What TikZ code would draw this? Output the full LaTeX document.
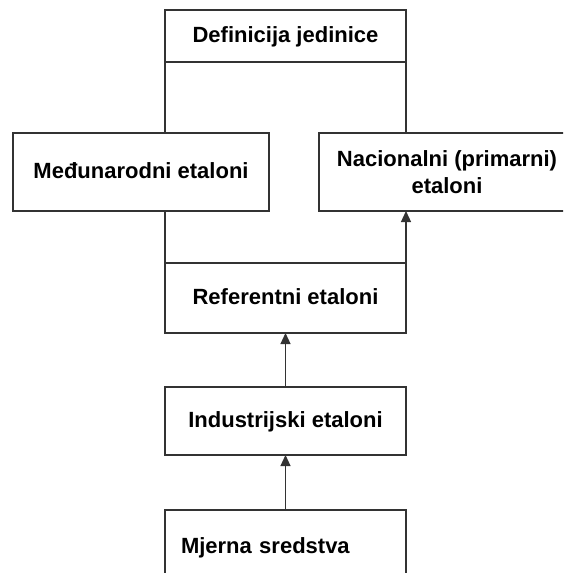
\documentclass[tikz,border=0pt]{standalone}
\usepackage{fontspec}
\setmainfont{Liberation Sans}
\usetikzlibrary{arrows.meta}

\begin{document}
\begin{tikzpicture}[x=1pt, y=-1pt, font=\fontsize{22}{27}\selectfont\bfseries, every node/.style={draw=black!80, line width=1.2pt, outer sep=0pt, inner sep=0pt, align=center, text height=16pt, text depth=3pt}, line width=1.2pt, arrow/.style={-{Triangle[length=11pt, width=10pt]}}]
	
	% okvir slike
	\clip (0, 0) rectangle (563, 573);
	
	% hijerarhija etalona
	\node[minimum width=241, minimum height=52] (def) at (285.5, 36) {Definicija jedinice};
	\node[minimum width=256, minimum height=78] (med) at (141, 172) {Međunarodni etaloni};
	\node[minimum width=256, minimum height=78, text height=, text depth=] (nac) at (447, 172) {Nacionalni (primarni)\\etaloni};
	\node[minimum width=241, minimum height=70] (ref) at (285.5, 298) {Referentni etaloni};
	\node[minimum width=241, minimum height=68] (ind) at (285.5, 421) {Industrijski etaloni};
	\node[minimum width=241, minimum height=74, text width=209, align=left] (mje) at (285.5, 547) {Mjerna sredstva};
	
	% veze
	\begin{scope}[draw=black!80]
	\draw (def.south west) -- (def.south west |- med.north);
	\draw (def.south east) -- (def.south east |- nac.north);
	\draw (ref.north west) -- (ref.north west |- med.south);
	\draw[arrow] (ref.north east) -- (ref.north east |- nac.south);
	\draw[arrow] (ind.north) -- (ref.south);
	\draw[arrow] (mje.north) -- (ind.south);
	\end{scope}
\end{tikzpicture}
\end{document}
